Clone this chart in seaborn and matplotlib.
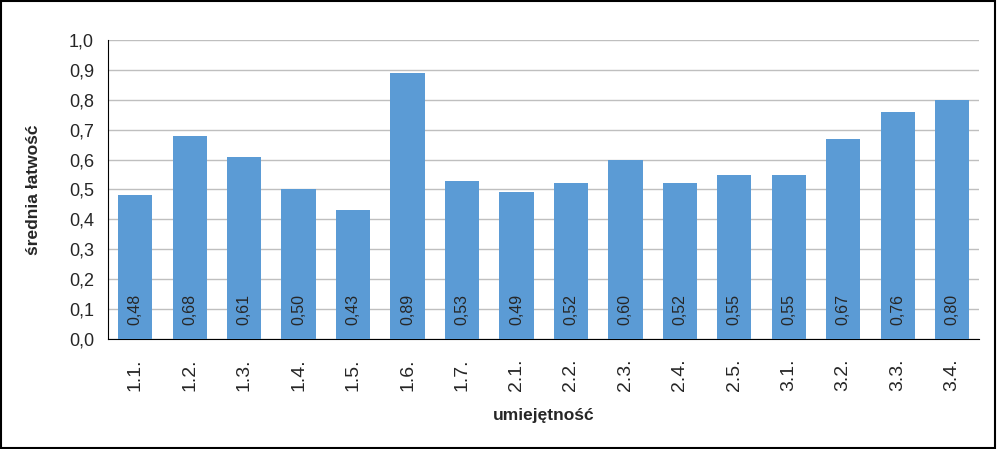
import matplotlib
matplotlib.use("Agg")
import matplotlib.pyplot as plt
import seaborn as sns
import pandas as pd
import numpy as np
from matplotlib.ticker import FuncFormatter, FixedLocator

# Data
skills = ["1.1.", "1.2.", "1.3.", "1.4.", "1.5.", "1.6.", "1.7.", "2.1.",
          "2.2.", "2.3.", "2.4.", "2.5.", "3.1.", "3.2.", "3.3.", "3.4."]
values = [0.48, 0.68, 0.61, 0.50, 0.43, 0.89, 0.53, 0.49,
          0.52, 0.60, 0.52, 0.55, 0.55, 0.67, 0.76, 0.80]

df = pd.DataFrame({"umiejetnosc": skills, "latwosc": values})

sns.set_style("white")
plt.rcParams["font.family"] = ["Liberation Sans", "DejaVu Sans"]

fig = plt.figure(figsize=(9.97, 4.49), dpi=100)
ax = fig.add_axes([0.1083, 0.245, 0.874, 0.666])

sns.barplot(data=df, x="umiejetnosc", y="latwosc", color="#5B9BD5",
            width=0.63, saturation=1, linewidth=0, ax=ax, zorder=3)

# value labels inside the bars
for i, v in enumerate(values):
    ax.text(i, 0.1, f"{v:.2f}".replace(".", ","), rotation=90,
            ha="center", va="center", fontsize=11.5, color="#262626", zorder=4)

ax.set_ylim(0, 1.0)
ax.set_xlim(-0.5, len(skills) - 0.5)
ax.set_yticks(np.arange(0, 1.01, 0.1))
ax.yaxis.set_major_formatter(FuncFormatter(lambda y, _: f"{y:.1f}".replace(".", ",")))
ax.yaxis.grid(True, color="#BFBFBF", linewidth=1, zorder=0)
ax.set_axisbelow(True)

# x ticks: labels at centres, tick marks at boundaries
ax.set_xticks(range(len(skills)))
ax.set_xticklabels(skills, rotation=90, fontsize=14)
ax.tick_params(axis="x", which="major", length=0, pad=14)
ax.xaxis.set_minor_locator(FixedLocator(np.arange(-0.5, len(skills), 1)))
ax.tick_params(axis="x", which="minor", length=6, width=1, color="black", direction="out")
ax.tick_params(axis="y", length=6, width=1, color="black", direction="out",
               labelsize=13, pad=4)

for s in ["top", "right"]:
    ax.spines[s].set_visible(False)
ax.spines["left"].set_color("black")
ax.spines["bottom"].set_color("black")

ax.set_xlabel("umiejętność", fontsize=12.5, fontweight="bold", labelpad=12)
ax.set_ylabel("średnia łatwość", fontsize=12.5, fontweight="bold", labelpad=20)

# figure border
fig.patches.append(plt.Rectangle((0.001, 0.002), 0.997, 0.996, transform=fig.transFigure,
                                 fill=False, edgecolor="black", linewidth=1.5))

fig.savefig("out.png", dpi=100)
